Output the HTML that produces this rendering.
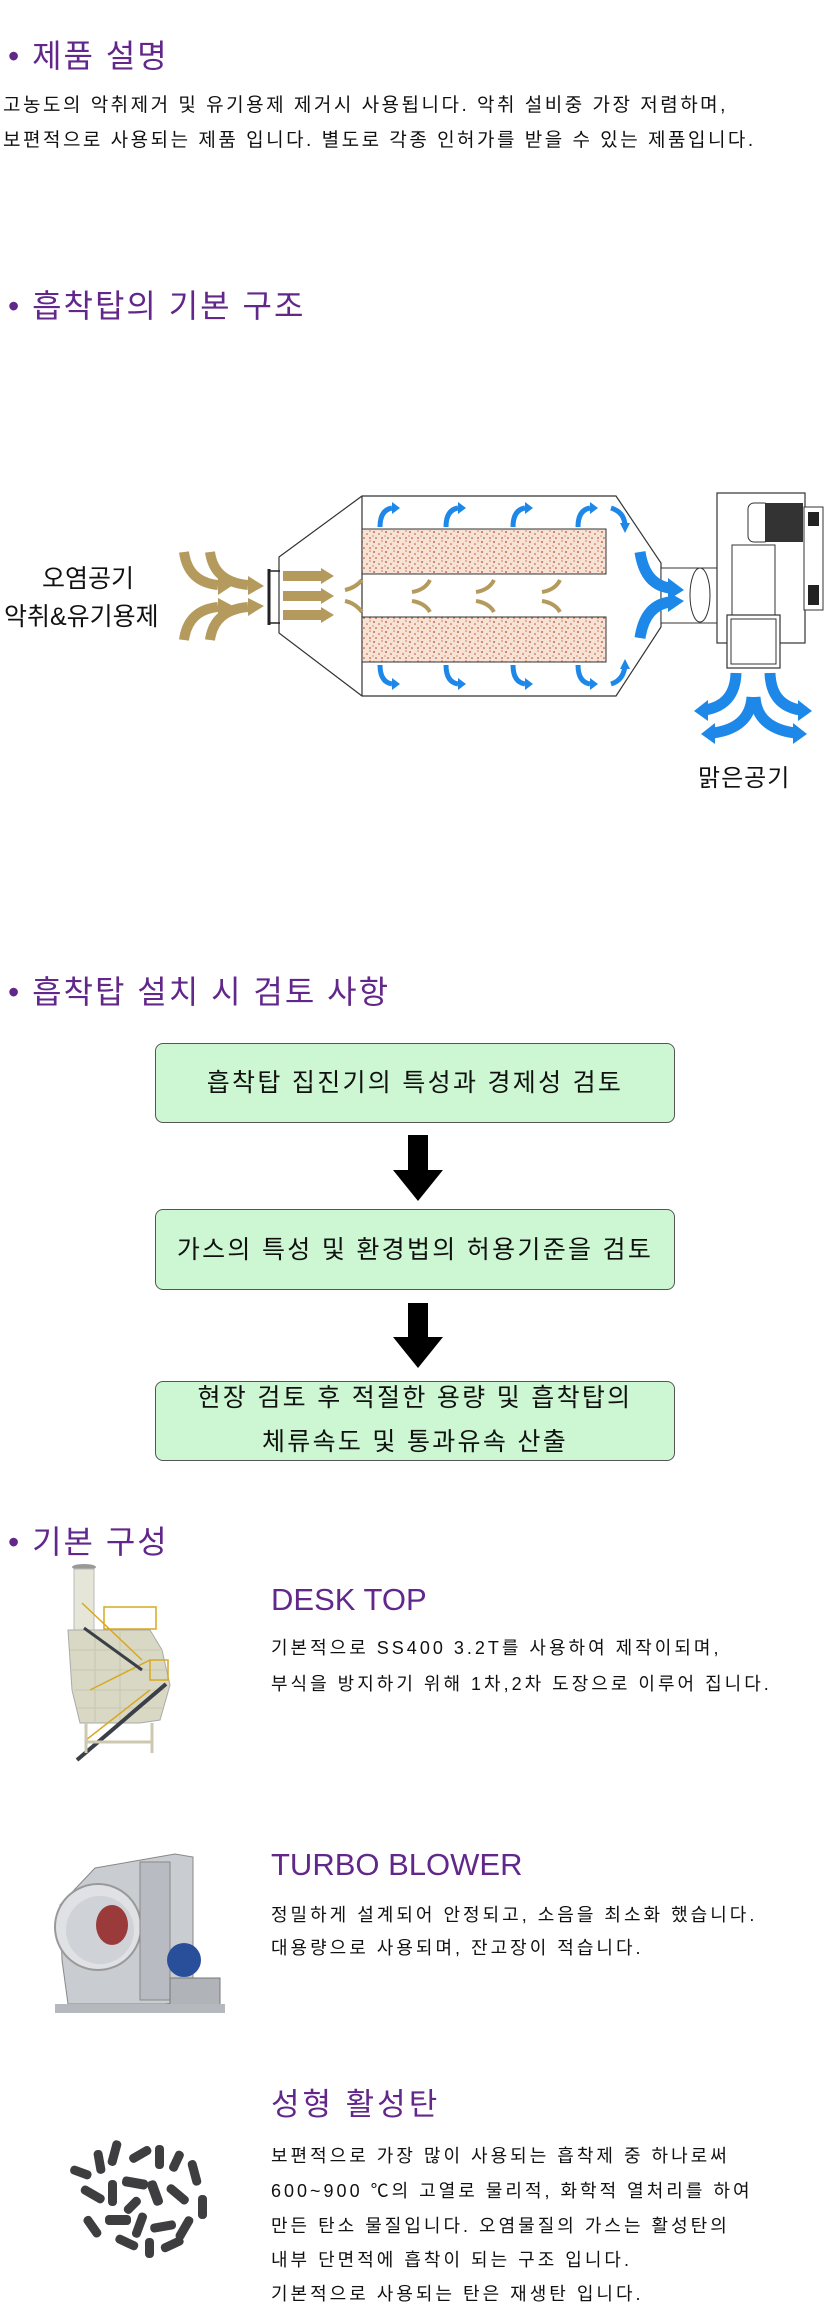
<!DOCTYPE html>
<html><head><meta charset="utf-8">
<style>
body{margin:0;background:#fff;}
#p{position:relative;width:830px;height:2324px;overflow:hidden;font-family:"Liberation Sans","Noto Sans CJK KR",sans-serif;color:#111;}
.t{position:absolute;white-space:nowrap;line-height:1;}
.h{color:#62278a;font-size:32px;letter-spacing:2px;}
.b{font-size:19px;letter-spacing:2.5px;}
.box{position:absolute;left:155px;width:520px;background:#cdf7d3;border:1.5px solid #555;border-radius:8px;box-sizing:border-box;}
.bt{position:absolute;left:0;right:0;text-align:center;font-size:25px;letter-spacing:2.3px;white-space:nowrap;line-height:1;}
.pt{color:#62278a;font-size:31px;}
.pb{font-size:18px;letter-spacing:3px;}
</style></head><body><div id="p">

<div class="t h" style="left:8px;top:40px;">• 제품 설명</div>
<div class="t b" style="left:3px;top:96px;">고농도의 악취제거 및 유기용제 제거시 사용됩니다. 악취 설비중 가장 저렴하며,</div>
<div class="t b" style="left:3px;top:131px;">보편적으로 사용되는 제품 입니다. 별도로 각종 인허가를 받을 수 있는 제품입니다.</div>

<div class="t h" style="left:8px;top:290px;">• 흡착탑의 기본 구조</div>

<svg style="position:absolute;left:0;top:0" width="830" height="2324">
<defs>
<pattern id="sp" width="12" height="10" patternUnits="userSpaceOnUse">
<rect width="12" height="10" fill="#f6e3d6"/>
<circle cx="2" cy="2" r="0.9" fill="#b8442a"/><circle cx="7" cy="4" r="0.8" fill="#c0502e"/>
<circle cx="4" cy="8" r="0.8" fill="#a83a24"/><circle cx="10" cy="8" r="0.9" fill="#c65a36"/>
<circle cx="10" cy="1" r="0.6" fill="#b04028"/><circle cx="1" cy="6" r="0.6" fill="#c0502e"/>
</pattern>
</defs>
<polygon points="279,557 362,496 616,496 661,563 661,627 616,696 362,696 279,633" fill="#fff" stroke="#333" stroke-width="1.2"/>
<line x1="362" y1="496" x2="362" y2="696" stroke="#333" stroke-width="1.2"/>
<rect x="362" y="529" width="244" height="45" fill="url(#sp)" stroke="#333"/>
<rect x="362" y="617" width="244" height="45" fill="url(#sp)" stroke="#333"/>
<line x1="269" y1="569" x2="269" y2="625" stroke="#222" stroke-width="3"/>
<line x1="269" y1="571" x2="280" y2="571" stroke="#222" stroke-width="1.5"/>
<line x1="269" y1="623" x2="280" y2="623" stroke="#222" stroke-width="1.5"/>
<rect x="661" y="568" width="66" height="55" fill="#fff" stroke="#333"/>
<ellipse cx="700" cy="595" rx="10" ry="27" fill="none" stroke="#333"/>
<rect x="717" y="493" width="88" height="150" fill="#fff" stroke="#333" stroke-width="1.2"/>
<rect x="732" y="545" width="43" height="72" fill="#fff" stroke="#333"/>
<rect x="748" y="503" width="22" height="39" rx="6" fill="#fff" stroke="#333"/>
<rect x="765" y="503" width="38" height="39" fill="#333"/>
<rect x="804" y="507" width="19" height="103" fill="#fff" stroke="#333"/>
<rect x="808" y="512" width="11" height="14" fill="#222"/><rect x="808" y="585" width="11" height="20" fill="#222"/>
<rect x="727" y="615" width="53" height="53" fill="#fff" stroke="#333" stroke-width="1.2"/>
<rect x="731" y="619" width="45" height="45" fill="#fff" stroke="#333"/>
<g fill="none" stroke="#b49a5c" stroke-width="10">
<path d="M184,552 Q188,582 218,585"/><path d="M210,552 Q214,582 248,585"/>
<path d="M184,640 Q188,610 218,607"/><path d="M210,640 Q214,610 248,607"/>
<line x1="283" y1="576" x2="322" y2="576"/><line x1="283" y1="596" x2="322" y2="596"/><line x1="283" y1="615" x2="322" y2="615"/>
</g>
<g fill="#b49a5c">
<polygon points="218,576 233,585 218,595"/><polygon points="248,576 264,586 248,595"/>
<polygon points="218,598 233,606 218,616"/><polygon points="248,598 264,606 248,616"/>
<polygon points="321,568 334,576 321,584"/><polygon points="321,588 334,596 321,604"/><polygon points="321,607 334,615 321,623"/>
</g>
<g fill="none" stroke="#b49a5c" stroke-width="4">
<path d="M345,590 Q355,588 362,580"/><path d="M345,601 Q355,603 362,612"/>
<path d="M412,592 Q425,590 430,580"/><path d="M412,601 Q425,603 430,612"/>
<path d="M476,592 Q489,590 494,580"/><path d="M476,601 Q489,603 494,612"/>
<path d="M542,592 Q555,590 560,580"/><path d="M542,601 Q555,603 560,612"/>
</g>
<g fill="none" stroke="#1e88e8" stroke-width="5">
<path d="M380,527 Q380,510 392,508"/><path d="M446,527 Q446,510 458,508"/><path d="M513,527 Q513,510 525,508"/><path d="M578,527 Q578,510 590,508"/>
<path d="M611,508 Q624,512 625,525"/>
<path d="M380,665 Q380,682 392,684"/><path d="M446,665 Q446,682 458,684"/><path d="M513,665 Q513,682 525,684"/><path d="M578,665 Q578,682 590,684"/>
<path d="M611,684 Q624,680 625,665"/>
</g>
<g fill="none" stroke="#1e88e8" stroke-width="11">
<path d="M640,552 Q645,585 670,588"/><path d="M640,638 Q645,605 670,602"/>
<path d="M736,673 Q735,705 705,710"/><path d="M752,697 Q750,728 713,733"/>
<path d="M770,673 Q771,705 800,710"/><path d="M755,697 Q757,728 795,733"/>
</g>
<g fill="#1e88e8">
<polygon points="392,502 400,508 392,514"/><polygon points="458,502 466,508 458,514"/><polygon points="525,502 533,508 525,514"/><polygon points="590,502 598,508 590,514"/>
<polygon points="620,523 625,533 630,523"/>
<polygon points="392,678 400,684 392,690"/><polygon points="458,678 466,684 458,690"/><polygon points="525,678 533,684 525,690"/><polygon points="590,678 598,684 590,690"/>
<polygon points="620,669 625,659 630,669"/>
<polygon points="668,578 684,590 668,600"/><polygon points="668,592 684,601 668,612"/>
<polygon points="708,700 694,711 708,721"/><polygon points="715,723 701,734 715,744"/>
<polygon points="798,700 812,711 798,721"/><polygon points="793,723 807,734 793,744"/>
</g>
<ellipse cx="84" cy="1567" rx="12" ry="3" fill="#999"/>
<rect x="74" y="1569" width="20" height="62" fill="#e6e6d8" stroke="#bbb"/>
<polygon points="68,1630 150,1630 162,1650 170,1685 160,1720 140,1723 80,1723 72,1690" fill="#d8d8c4" stroke="#aaa"/>
<g stroke="#c8c8b0" stroke-width="1"><line x1="70" y1="1650" x2="160" y2="1650"/><line x1="72" y1="1670" x2="165" y2="1670"/><line x1="74" y1="1690" x2="165" y2="1690"/><line x1="77" y1="1708" x2="162" y2="1708"/><line x1="95" y1="1630" x2="95" y2="1723"/><line x1="120" y1="1630" x2="120" y2="1723"/></g>
<g stroke="#d8a820" stroke-width="1.5" fill="none"><rect x="104" y="1607" width="52" height="22"/><line x1="82" y1="1603" x2="142" y2="1660"/><line x1="90" y1="1690" x2="150" y2="1660"/><rect x="150" y="1660" width="18" height="20"/><line x1="86" y1="1740" x2="150" y2="1690"/></g>
<line x1="84" y1="1628" x2="142" y2="1670" stroke="#3a3f48" stroke-width="3"/>
<line x1="77" y1="1760" x2="166" y2="1684" stroke="#3a3f48" stroke-width="4"/>
<g stroke="#ccc9b0" stroke-width="3"><line x1="86" y1="1723" x2="86" y2="1753"/><line x1="152" y1="1723" x2="152" y2="1753"/><line x1="86" y1="1742" x2="152" y2="1742"/></g>
<polygon points="95,1868 175,1854 193,1857 193,2000 165,2004 68,2004 62,1960 60,1905" fill="#c9ccd0" stroke="#888"/>
<circle cx="98" cy="1927" r="43" fill="#dfe1e4" stroke="#999" stroke-width="2"/>
<circle cx="100" cy="1930" r="34" fill="#cfd2d6"/>
<ellipse cx="112" cy="1925" rx="16" ry="20" fill="#9b3a3a"/>
<rect x="140" y="1862" width="30" height="138" fill="#b8bcc2" stroke="#888"/>
<circle cx="184" cy="1960" r="17" fill="#2a4f9a"/>
<rect x="170" y="1978" width="50" height="30" fill="#b0b3b8" stroke="#777"/>
<rect x="55" y="2004" width="170" height="9" fill="#b5b8bd"/>
<g fill="#3e3e40">
<rect x="70" y="2168" width="22" height="9" rx="4" transform="rotate(20 81 2172)"/>
<rect x="95" y="2150" width="9" height="24" rx="4" transform="rotate(-10 99 2162)"/>
<rect x="110" y="2140" width="9" height="26" rx="4" transform="rotate(15 114 2153)"/>
<rect x="128" y="2150" width="24" height="9" rx="4" transform="rotate(-30 140 2154)"/>
<rect x="155" y="2145" width="9" height="24" rx="4"/>
<rect x="172" y="2150" width="9" height="22" rx="4" transform="rotate(25 176 2161)"/>
<rect x="190" y="2160" width="9" height="26" rx="4" transform="rotate(-15 194 2173)"/>
<rect x="80" y="2190" width="26" height="9" rx="4" transform="rotate(30 93 2194)"/>
<rect x="108" y="2180" width="9" height="26" rx="4"/>
<rect x="122" y="2178" width="26" height="10" rx="4" transform="rotate(10 135 2183)"/>
<rect x="150" y="2180" width="10" height="26" rx="4" transform="rotate(-20 155 2193)"/>
<rect x="165" y="2190" width="26" height="9" rx="4" transform="rotate(40 178 2194)"/>
<rect x="198" y="2195" width="9" height="24" rx="4"/>
<rect x="88" y="2215" width="9" height="24" rx="4" transform="rotate(-35 92 2227)"/>
<rect x="105" y="2215" width="26" height="10" rx="4"/>
<rect x="135" y="2212" width="9" height="26" rx="4" transform="rotate(20 139 2225)"/>
<rect x="150" y="2222" width="26" height="9" rx="4" transform="rotate(-10 163 2226)"/>
<rect x="180" y="2215" width="9" height="26" rx="4" transform="rotate(30 184 2228)"/>
<rect x="115" y="2238" width="24" height="9" rx="4" transform="rotate(25 127 2242)"/>
<rect x="145" y="2238" width="9" height="20" rx="4"/>
<rect x="160" y="2240" width="24" height="9" rx="4" transform="rotate(-25 172 2244)"/>
<rect x="128" y="2195" width="9" height="20" rx="4" transform="rotate(45 132 2205)"/>
</g>
<polygon points="408,1135 428,1135 428,1170 443,1170 418,1201 393,1170 408,1170" fill="#000"/>
<polygon points="408,1303 428,1303 428,1337 443,1337 418,1368 393,1337 408,1337" fill="#000"/>
</svg>

<div class="t" style="left:42px;top:567px;font-size:25px;">오염공기</div>
<div class="t" style="left:4px;top:605px;font-size:25px;">악취&amp;유기용제</div>
<div class="t" style="left:698px;top:767px;font-size:24px;letter-spacing:1px;">맑은공기</div>

<div class="t h" style="left:8px;top:976px;">• 흡착탑 설치 시 검토 사항</div>
<div class="box" style="top:1043px;height:80px;"><div class="bt" style="top:27px;">흡착탑 집진기의 특성과 경제성 검토</div></div>
<div class="box" style="top:1209px;height:81px;"><div class="bt" style="top:28px;">가스의 특성 및 환경법의 허용기준을 검토</div></div>
<div class="box" style="top:1381px;height:80px;"><div class="bt" style="top:4px;">현장 검토 후 적절한 용량 및 흡착탑의</div><div class="bt" style="top:48px;">체류속도 및 통과유속 산출</div></div>

<div class="t h" style="left:8px;top:1526px;">• 기본 구성</div>

<div class="t pt" style="left:271px;top:1584px;">DESK TOP</div>
<div class="t pb" style="left:271px;top:1639px;">기본적으로 SS400 3.2T를 사용하여 제작이되며,</div>
<div class="t pb" style="left:271px;top:1675px;">부식을 방지하기 위해 1차,2차 도장으로 이루어 집니다.</div>

<div class="t pt" style="left:271px;top:1849px;">TURBO BLOWER</div>
<div class="t pb" style="left:271px;top:1906px;">정밀하게 설계되어 안정되고, 소음을 최소화 했습니다.</div>
<div class="t pb" style="left:271px;top:1939px;">대용량으로 사용되며, 잔고장이 적습니다.</div>

<div class="t pt" style="left:271px;top:2089px;letter-spacing:3px;">성형 활성탄</div>
<div class="t pb" style="left:271px;top:2147px;">보편적으로 가장 많이 사용되는 흡착제 중 하나로써</div>
<div class="t pb" style="left:271px;top:2182px;">600~900 ℃의 고열로 물리적, 화학적 열처리를 하여</div>
<div class="t pb" style="left:271px;top:2217px;">만든 탄소 물질입니다. 오염물질의 가스는 활성탄의</div>
<div class="t pb" style="left:271px;top:2251px;">내부 단면적에 흡착이 되는 구조 입니다.</div>
<div class="t pb" style="left:271px;top:2285px;">기본적으로 사용되는 탄은 재생탄 입니다.</div>

</div></body></html>
